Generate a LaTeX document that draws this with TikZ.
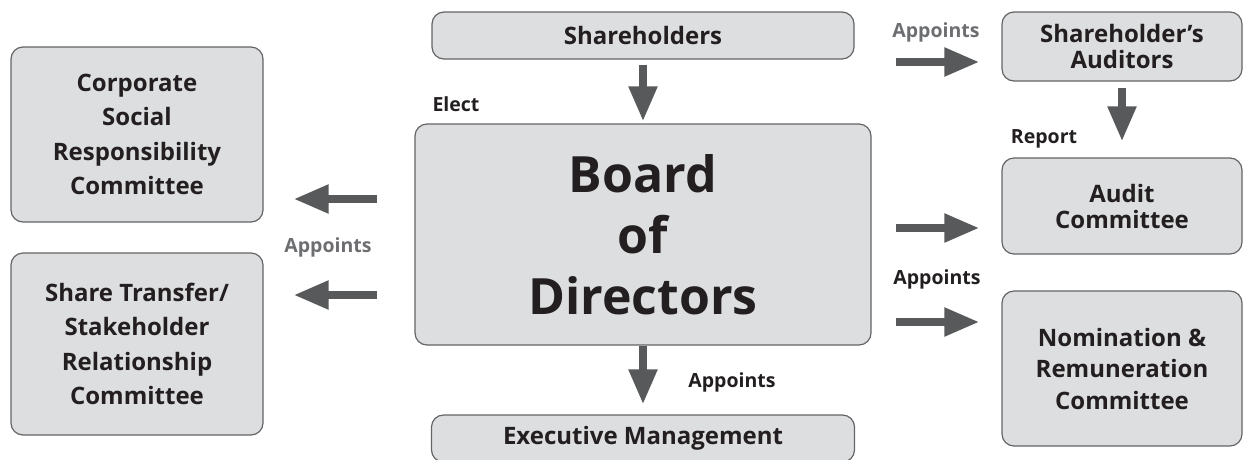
\documentclass[tikz,border=0pt]{standalone}
\usepackage{fontspec}
\setmainfont{Open Sans}
\usetikzlibrary{arrows.meta}

\definecolor{boxfill}{RGB}{221,222,224}
\definecolor{boxline}{RGB}{100,100,102}
\definecolor{arrowgray}{RGB}{88,89,91}
\definecolor{labelgray}{RGB}{109,110,113}
\definecolor{ink}{RGB}{35,31,32}

\begin{document}
\begin{tikzpicture}[x=1pt,y=-1pt,
	box/.style={draw=boxline,line width=1.2pt,fill=boxfill,rounded corners=12pt,
		inner sep=0pt,align=center,text=ink},
	arr/.style={draw=arrowgray,line width=8pt,-{Triangle[length=35pt,width=27pt]}},
	lbl/.style={font=\fontsize{19.5}{22}\selectfont\bfseries,text=ink,inner sep=0pt},
	glbl/.style={lbl,text=labelgray}]
	\useasboundingbox (0,0) rectangle (1244,459);
	% top and centre column
	\node[box,minimum width=422pt,minimum height=47pt,font=\fontsize{24}{26}\selectfont\bfseries] (sh) at (643,35.5) {Shareholders};
	\node[box,minimum width=456pt,minimum height=221pt,font=\fontsize{50}{61}\selectfont\bfseries] (bod) at (643,234.5) {Board\\of\\Directors};
	\node[box,minimum width=423pt,minimum height=47pt,font=\fontsize{24}{26}\selectfont\bfseries] (em) at (643,438.5) {Executive Management};
	% left committees
	\node[box,minimum width=252pt,minimum height=175pt,font=\fontsize{24}{34.5}\selectfont\bfseries] (csr) at (137,134.5) {Corporate\\Social\\Responsibility\\Committee};
	\node[box,minimum width=252pt,minimum height=182pt,font=\fontsize{24}{34.5}\selectfont\bfseries] (stc) at (137,344) {Share Transfer/\\Stakeholder\\Relationship\\Committee};
	% right side
	\node[box,minimum width=240pt,minimum height=69pt,font=\fontsize{24}{26}\selectfont\bfseries] (aud) at (1122,46.5) {Shareholder’s\\Auditors};
	\node[box,minimum width=240pt,minimum height=96pt,font=\fontsize{24}{26}\selectfont\bfseries] (ac) at (1122,206) {Audit\\Committee};
	\node[box,minimum width=240pt,minimum height=155pt,font=\fontsize{24}{31.5}\selectfont\bfseries] (nrc) at (1122,368.5) {Nomination \&\\Remuneration\\Committee};

	\draw[arr,shorten <=5pt,shorten >=2pt] (sh.south) -- (bod.north);
	\draw[arr,shorten <=0pt,shorten >=10pt] (bod.south) -- (em.north);
	\draw[arr,shorten <=6pt,shorten >=16pt] (aud.south) -- (ac.north);
	\draw[arr,shorten <=37pt,shorten >=30pt] (bod.west |- 0,199) -- (csr.east |- 0,199);
	\draw[arr,shorten <=37pt,shorten >=30pt] (bod.west |- 0,295) -- (stc.east |- 0,295);
	\draw[arr,shorten <=41pt,shorten >=22pt] (sh.east |- 0,62) -- (aud.west |- 0,62);
	\draw[arr,shorten <=24pt,shorten >=22pt] (bod.east |- 0,228) -- (ac.west |- 0,228);
	\draw[arr,shorten <=24pt,shorten >=22pt] (bod.east |- 0,322) -- (nrc.west |- 0,322);

	\node[lbl] (elect) at (456,104) {Elect};
	\node[glbl] (apsh) at (936,32) {Appoints};
	\node[lbl] (rep) at (1044,139) {Report};
	\node[glbl] (apl) at (328,247) {Appoints};
	\node[lbl] (apr) at (937,279) {Appoints};
	\node[lbl] (apem) at (732,382) {Appoints};
\end{tikzpicture}
\end{document}
